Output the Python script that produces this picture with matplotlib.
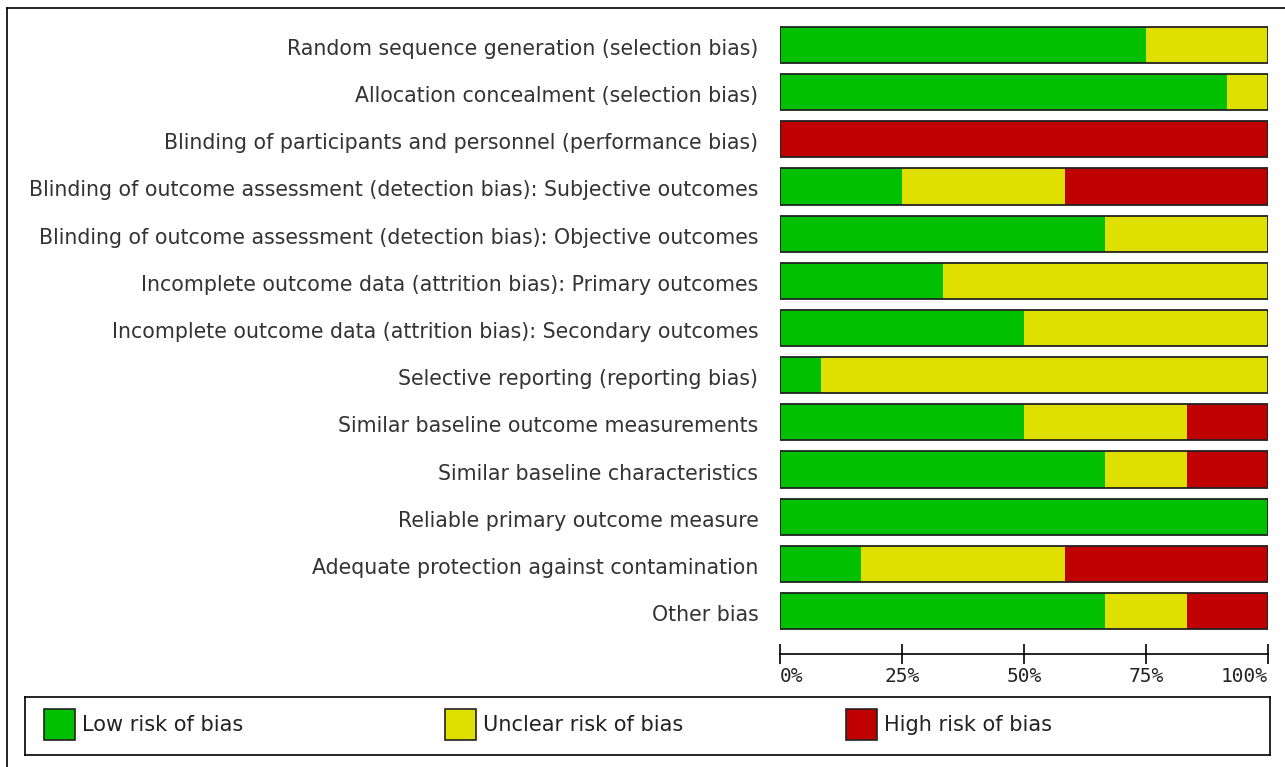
from matplotlib import pyplot as plt
from matplotlib.patches import Rectangle
from matplotlib.transforms import ScaledTranslation
import numpy as np

plt.rcParams['font.family'] = ['DejaVu Sans']

domains = [
    'Random sequence generation (selection bias)',
    'Allocation concealment (selection bias)',
    'Blinding of participants and personnel (performance bias)',
    'Blinding of outcome assessment (detection bias): Subjective outcomes',
    'Blinding of outcome assessment (detection bias): Objective outcomes',
    'Incomplete outcome data (attrition bias): Primary outcomes',
    'Incomplete outcome data (attrition bias): Secondary outcomes',
    'Selective reporting (reporting bias)',
    'Similar baseline outcome measurements',
    'Similar baseline characteristics',
    'Reliable primary outcome measure',
    'Adequate protection against contamination',
    'Other bias',
]
low = [75, 91.7, 0, 25, 66.7, 33.3, 50, 8.3, 50, 66.7, 100, 16.7, 66.7]
unclear = [25, 8.3, 0, 33.3, 33.3, 66.7, 50, 91.7, 33.3, 16.7, 0, 41.7, 16.7]
high = [0, 0, 100, 41.7, 0, 0, 0, 0, 16.7, 16.7, 0, 41.6, 16.6]

categories = ['Low risk of bias', 'Unclear risk of bias', 'High risk of bias']
colors = ['#00c000', '#e0e000', '#c00000']
tick_vals = [0, 25, 50, 75, 100]
tick_labels = ['0%', '25%', '50%', '75%', '100%']

W, H = 1285, 767
fig = plt.figure(figsize=(W / 100, H / 100), dpi=100)

# outer frame (left/top)
fig.add_artist(plt.Line2D([7 / W, 7 / W], [0, 1 - 8 / H], color='black', lw=1.2))
fig.add_artist(plt.Line2D([7 / W, 1], [1 - 8 / H, 1 - 8 / H], color='black', lw=1.2))

# bar axes
x0, x1 = 780, 1268
ytop, ybot = 21.4, 634.6
ax = fig.add_axes([x0 / W, 1 - ybot / H, (x1 - x0) / W, (ybot - ytop) / H])
y = np.arange(len(domains))
h = 0.77
left = np.zeros(len(domains))
for vals, c in zip([low, unclear, high], colors):
    vals = np.array(vals)
    ax.barh(y, vals, left=left, height=h, color=c, edgecolor='none', linewidth=0)
    left += vals
ax.barh(y, left, height=h, fill=False, edgecolor='#222222', linewidth=1.3)

ax.set_xlim(0, 100)
ax.set_ylim(len(domains) - 0.5, -0.5)
ax.set_yticks(y)
ax.set_yticklabels(domains, fontsize=14.8, color='#333333')
ax.tick_params(axis='y', length=0, pad=15.5)
shift = ScaledTranslation(0, -2 / 100, fig.dpi_scale_trans)
for t in ax.get_yticklabels():
    t.set_transform(t.get_transform() + shift)
for s in ['top', 'right', 'left']:
    ax.spines[s].set_visible(False)
ax.spines['bottom'].set_position(('outward', 14))
ax.spines['bottom'].set_linewidth(1.2)
ax.set_xticks(tick_vals)
ax.set_xticklabels(tick_labels, fontsize=14, family='DejaVu Sans Mono', color='#222222')
ax.tick_params(axis='x', direction='inout', length=14, width=1.2, pad=2)
lbls = ax.get_xticklabels()
lbls[0].set_ha('left')
lbls[-1].set_ha('right')

# legend box
lx0, lx1, ly0, ly1 = 25, 1270, 697, 755
lax = fig.add_axes([lx0 / W, 1 - ly1 / H, (lx1 - lx0) / W, (ly1 - ly0) / H])
lax.set_xlim(lx0, lx1)
lax.set_ylim(ly1, ly0)
lax.set_xticks([])
lax.set_yticks([])
for s in lax.spines.values():
    s.set_linewidth(1.2)
for i, (lab, c) in enumerate(zip(categories, colors)):
    px = 44 + i * 401
    lax.add_patch(Rectangle((px, 709), 31, 31, facecolor=c, edgecolor='#222222', lw=1.2))
    lax.text(px + 38, 725, lab, fontsize=15, va='center', ha='left', color='#222222')

fig.savefig('out.png', dpi=100)
